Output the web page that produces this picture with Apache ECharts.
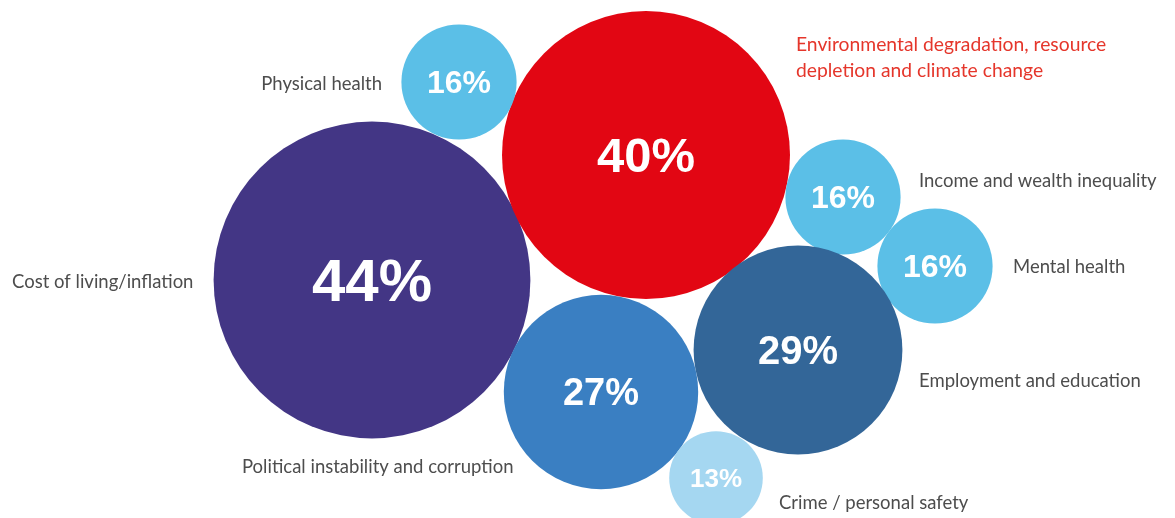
<!DOCTYPE html>
<html>
<head>
<meta charset="utf-8">
<script src="https://cdn.jsdelivr.net/npm/echarts@6/dist/echarts.min.js"></script>
<style>html,body{margin:0;padding:0;background:#fff}#c{width:1175px;height:518px}</style>
</head>
<body>
<div id="c"></div>
<script>
// ---- data ----
var categories = ['Cost of living/inflation', 'Environmental degradation, resource\ndepletion and climate change', 'Physical health', 'Income and wealth inequality', 'Mental health', 'Employment and education', 'Political instability and corruption', 'Crime / personal safety'];
var shares = [44, 40, 16, 16, 16, 29, 27, 13];
// packed-bubble layout (pixel space of the canvas)
var layoutX = [372, 646, 459, 843, 935, 798, 601, 716];
var layoutY = [280, 155, 82, 197, 266, 350, 392, 478];

// ---- styles ----
var bubbleColors = ['#433685', '#E20613', '#5BBFE7', '#5BBFE7', '#5BBFE7', '#336698', '#3A7FC2', '#A5D7F1'];
var pctFont = [60, 49, 32, 32, 32, 40, 38, 26];
var nameAnchor = [[12, 282, 'left'], [796, 58, 'left'], [382, 84, 'right'], [919, 181, 'left'], [1013, 267, 'left'], [919, 381, 'left'], [242, 467, 'left'], [779, 503, 'left']];
var nameFont = [18.5, 19.3, 18.5, 18.5, 18.5, 18.5, 18.5, 18.5];
var nameColor = ['#4d4d4d', '#E5362B', '#4d4d4d', '#4d4d4d', '#4d4d4d', '#4d4d4d', '#4d4d4d', '#4d4d4d'];

var chart = echarts.init(document.getElementById('c'));
var data = shares.map(function (v, i) {
  return {
    name: categories[i],
    value: [layoutX[i], layoutY[i], v],
    itemStyle: { color: bubbleColors[i], opacity: 1 },
    label: { fontSize: pctFont[i], offset: [0, Math.round(pctFont[i] * 0.07)] }
  };
});
var graphics = categories.map(function (c, i) {
  return {
    type: 'text',
    x: nameAnchor[i][0],
    y: nameAnchor[i][1],
    silent: true,
    style: {
      text: c,
      fill: nameColor[i],
      font: nameFont[i] + 'px Lato, "Liberation Sans", sans-serif',
      align: nameAnchor[i][2],
      verticalAlign: 'middle',
      lineHeight: 26
    }
  };
});
chart.setOption({
  animation: false,
  backgroundColor: '#ffffff',
  grid: { left: 0, top: 0, right: 0, bottom: 0 },
  xAxis: { type: 'value', min: 0, max: 1175, show: false },
  yAxis: { type: 'value', min: 0, max: 518, inverse: true, show: false },
  graphic: graphics,
  series: [{
    type: 'scatter',
    data: data,
    symbolSize: function (d) { return d[2] * 7.2; },
    label: {
      show: true,
      position: 'inside',
      color: '#ffffff',
      fontWeight: 'bold',
      fontFamily: '"Liberation Sans", Arial, sans-serif',
      formatter: function (p) { return p.value[2] + '%'; }
    },
    emphasis: { disabled: true }
  }]
});
</script>
</body>
</html>
